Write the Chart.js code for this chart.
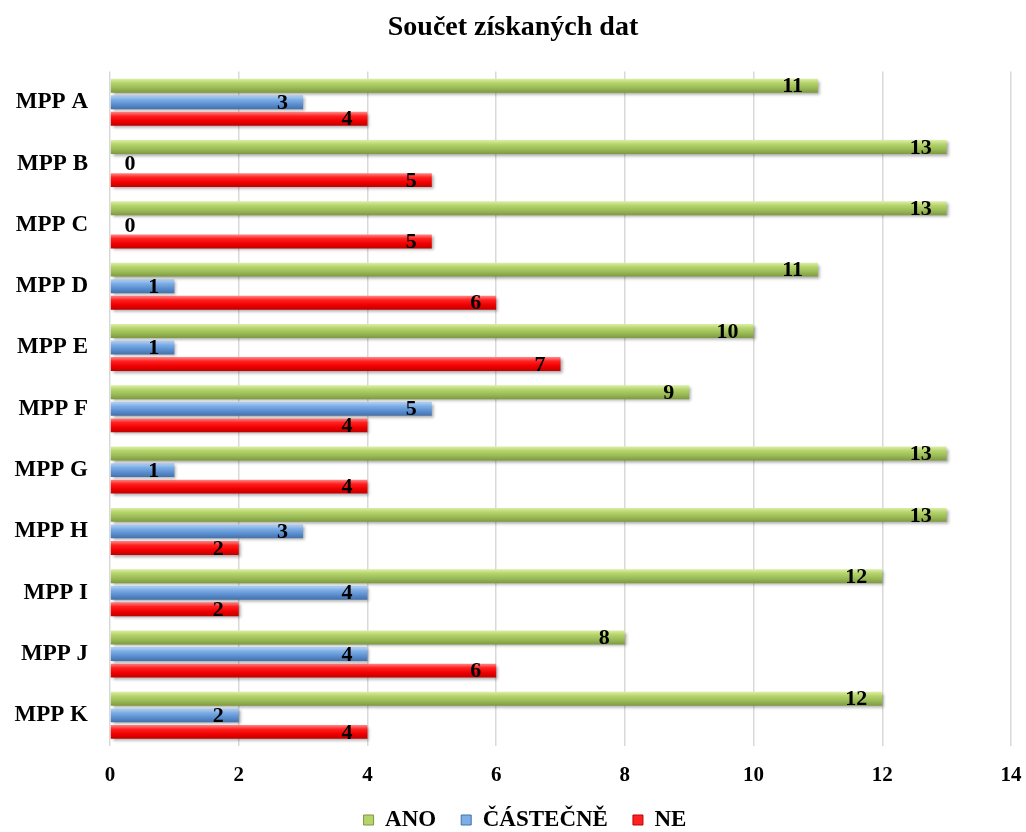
<!DOCTYPE html>
<html>
<head>
<meta charset="utf-8">
<script src="https://cdn.jsdelivr.net/npm/chart.js@4.4.1/dist/chart.umd.min.js"></script>
<style>
  html, body { margin: 0; padding: 0; background: #ffffff; }
  #wrap { width: 1026px; height: 832px; }
</style>
</head>
<body>
<div id="wrap"><canvas id="c" width="1026" height="832"></canvas></div>
<script>
const categories = ['MPP A', 'MPP B', 'MPP C', 'MPP D', 'MPP E', 'MPP F', 'MPP G', 'MPP H', 'MPP I', 'MPP J', 'MPP K'];
const seriesNames = ['ANO', 'ČÁSTEČNĚ', 'NE'];
const anoValues = [11, 13, 13, 11, 10, 9, 13, 13, 12, 8, 12];
const castecneValues = [3, 0, 0, 1, 1, 5, 1, 3, 4, 4, 2];
const neValues = [4, 5, 5, 6, 7, 4, 4, 2, 2, 6, 4];
const xTicks = [0, 2, 4, 6, 8, 10, 12, 14];

const SERIF = '"Liberation Serif", "Times New Roman", serif';

// gradient stops (top -> bottom) for each series
const palettes = [
  { base: '#9bbb59', stops: ['#dcefa8', '#b5d46a', '#9bbb59', '#7d9a3e'] },
  { base: '#4f81bd', stops: ['#b9d6f6', '#7eaee6', '#5a8fd0', '#4570a8'] },
  { base: '#ff0000', stops: ['#ff8a8a', '#ff2020', '#f00000', '#c00000'] }
];

// shaded, shadowed bars: gradient fill per bar element + drop shadow
const barStyle = {
  id: 'barStyle',
  beforeDatasetsDraw(chart) {
    const ctx = chart.ctx;
    chart.data.datasets.forEach((ds, di) => {
      const meta = chart.getDatasetMeta(di);
      const pal = palettes[di];
      meta.data.forEach(bar => {
        const top = bar.y - bar.height / 2;
        const bottom = bar.y + bar.height / 2;
        const g = ctx.createLinearGradient(0, top, 0, bottom);
        g.addColorStop(0, pal.stops[0]);
        g.addColorStop(0.3, pal.stops[1]);
        g.addColorStop(0.65, pal.stops[2]);
        g.addColorStop(1, pal.stops[3]);
        bar.options.backgroundColor = g;
      });
    });
    ctx.save();
    ctx.shadowColor = 'rgba(0,0,0,0.35)';
    ctx.shadowOffsetX = 2;
    ctx.shadowOffsetY = 2;
    ctx.shadowBlur = 3;
  },
  afterDatasetsDraw(chart) {
    chart.ctx.restore();
  }
};

// value labels at the inside end of each bar
const valueLabels = {
  id: 'valueLabels',
  afterDatasetsDraw(chart) {
    const ctx = chart.ctx;
    ctx.save();
    ctx.font = 'bold 22px ' + SERIF;
    ctx.fillStyle = '#000000';
    ctx.textBaseline = 'middle';
    chart.data.datasets.forEach((ds, di) => {
      const meta = chart.getDatasetMeta(di);
      meta.data.forEach((bar, i) => {
        const v = ds.data[i];
        if (v === 0) {
          ctx.textAlign = 'center';
          ctx.fillText(String(v), bar.base + 20, bar.y + 1);
        } else {
          ctx.textAlign = 'right';
          ctx.fillText(String(v), bar.x - 15, bar.y + 1);
        }
      });
    });
    ctx.restore();
  }
};

// place the legend row near the bottom edge and give the x tick labels room
const legendPlacement = {
  id: 'legendPlacement',
  afterLayout(chart) {
    const x = chart.scales.x;
    x.bottom = x.top + 50;
    const lg = chart.legend;
    if (!lg) return;
    const h = lg.bottom - lg.top;
    const top = 820 - 25 - 11.5;
    lg.top = top;
    lg.bottom = top + h;
    lg.left += 12;
    lg.right += 12;
  }
};

new Chart(document.getElementById('c'), {
  type: 'bar',
  data: {
    labels: categories,
    datasets: [
      { label: seriesNames[0], data: anoValues, backgroundColor: (c) => palettes[c.datasetIndex].base },
      { label: seriesNames[1], data: castecneValues, backgroundColor: (c) => palettes[c.datasetIndex].base },
      { label: seriesNames[2], data: neValues, backgroundColor: (c) => palettes[c.datasetIndex].base }
    ]
  },
  options: {
    indexAxis: 'y',
    responsive: false,
    animation: false,
    devicePixelRatio: 1,
    categoryPercentage: 0.81,
    barPercentage: 0.84,
    layout: { padding: { left: 0, right: 0, top: 0, bottom: 0 } },
    plugins: {
      title: {
        display: true,
        text: 'Součet získaných dat',
        color: '#000000',
        font: { family: SERIF, size: 28, weight: 'bold' },
        padding: { top: 11, bottom: 27 }
      },
      legend: {
        position: 'bottom',
        labels: {
          color: '#000000',
          font: { family: SERIF, size: 23, weight: 'bold' },
          boxWidth: 10,
          boxHeight: 10,
          padding: 25,
          generateLabels(chart) {
            return chart.data.datasets.map((ds, i) => ({
              text: ds.label,
              fillStyle: palettes[i].stops[1],
              strokeStyle: palettes[i].stops[3],
              lineWidth: 1,
              hidden: false,
              datasetIndex: i,
              fontColor: '#000000'
            }));
          }
        }
      },
      tooltip: { enabled: false }
    },
    scales: {
      x: {
        min: 0,
        max: 14,
        afterBuildTicks(scale) { scale.ticks = xTicks.map(v => ({ value: v })); },
        afterFit(scale) { scale.height = 28; scale.paddingRight = 15; },
        grid: { color: '#d9d9d9', lineWidth: 1.5, drawTicks: false },
        border: { display: false },
        ticks: {
          color: '#000000',
          font: { family: SERIF, size: 21, weight: 'bold' },
          padding: 17
        }
      },
      y: {
        grid: { display: false, drawTicks: false },
        border: { display: false },
        afterFit(scale) { scale.width = 110; },
        ticks: {
          color: '#000000',
          font: { family: SERIF, size: 23, weight: 'bold' },
          padding: 22
        }
      }
    }
  },
  plugins: [barStyle, valueLabels, legendPlacement]
});
</script>
</body>
</html>
